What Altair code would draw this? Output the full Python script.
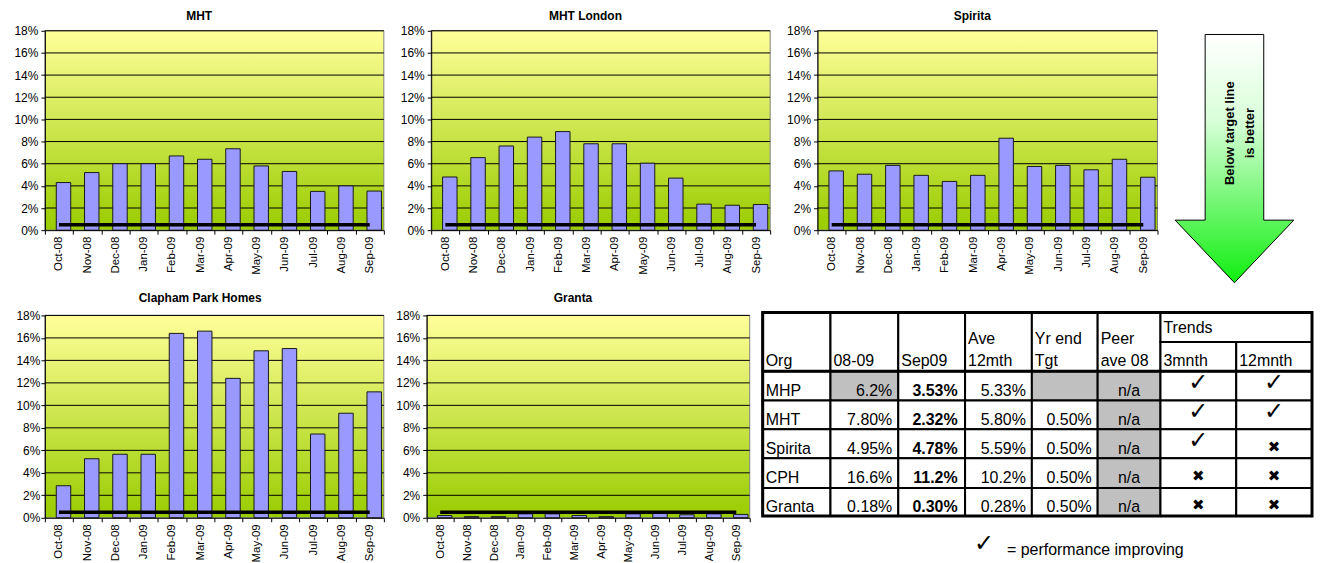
import altair as alt
import pandas as pd

FONT = "Liberation Sans"
SYM_FONT = "DejaVu Sans"

# ---------------- data ----------------
MONTHS = ["Oct-08", "Nov-08", "Dec-08", "Jan-09", "Feb-09", "Mar-09",
          "Apr-09", "May-09", "Jun-09", "Jul-09", "Aug-09", "Sep-09"]
MHT = [4.3, 5.2, 6.0, 6.0, 6.7, 6.4, 7.35, 5.8, 5.3, 3.5, 4.0, 3.53]
MHT_LONDON = [4.8, 6.55, 7.6, 8.4, 8.9, 7.8, 7.8, 6.05, 4.7, 2.35, 2.25, 2.32]
SPIRITA = [5.35, 5.05, 5.85, 4.95, 4.4, 4.95, 8.3, 5.75, 5.85, 5.45, 6.4, 4.78]
CPH = [2.85, 5.25, 5.65, 5.65, 16.4, 16.6, 12.4, 14.85, 15.05, 7.45, 9.3, 11.2]
GRANTA = [0.2, 0.1, 0.1, 0.35, 0.35, 0.2, 0.1, 0.35, 0.38, 0.27, 0.35, 0.30]
TARGET = 0.5
Y_TICKS = [0, 2, 4, 6, 8, 10, 12, 14, 16, 18]

TABLE_ORGS = ["MHP", "MHT", "Spirita", "CPH", "Granta"]
COL_08_09 = ["6.2%", "7.80%", "4.95%", "16.6%", "0.18%"]
COL_SEP09 = ["3.53%", "2.32%", "4.78%", "11.2%", "0.30%"]
COL_AVE12 = ["5.33%", "5.80%", "5.59%", "10.2%", "0.28%"]
COL_YR_TGT = ["", "0.50%", "0.50%", "0.50%", "0.50%"]
COL_PEER = ["n/a", "n/a", "n/a", "n/a", "n/a"]
TREND_3M = [True, True, True, False, False]
TREND_12M = [True, True, False, False, False]
# header text: (text, column, line level)
HEADER_LINES = [("Org", 0, 2), ("08-09", 1, 2), ("Sep09", 2, 2),
                ("Ave", 3, 1), ("12mth", 3, 2), ("Yr end", 4, 1), ("Tgt", 4, 2),
                ("Peer", 5, 1), ("ave 08", 5, 2), ("Trends", 6, 0),
                ("3mnth", 6, 2), ("12mnth", 7, 2)]
GRAY_CELLS = [(0, 1), (0, 4), (0, 5), (1, 5), (2, 5), (3, 5), (4, 5)]
CHECK = "\u2713"
CROSS = "\u2716"
ARROW_TEXT = ["Below target line", "is better"]
LEGEND_TEXT = "= performance improving"

# ---------------- styling / layout ----------------
BG_GRAD = alt.Gradient(gradient="linear", x1=0, x2=0, y1=0, y2=1,
                       stops=[alt.GradientStop(color="#FFFF99", offset=0),
                              alt.GradientStop(color="#99CC00", offset=1)])
ARROW_GRAD = alt.Gradient(gradient="linear", x1=0, x2=0, y1=0, y2=1,
                          stops=[alt.GradientStop(color="#FFFFFF", offset=0),
                                 alt.GradientStop(color="#D8FFD8", offset=0.35),
                                 alt.GradientStop(color="#10EE10", offset=1)])


def bar_panel(title, values, width, height, title_offset, label_pad):
    df = pd.DataFrame({"month": MONTHS, "value": values,
                       "target": [TARGET] * len(MONTHS)})
    grid_df = pd.DataFrame({"value": Y_TICKS[1:]})
    yscale = alt.Scale(domain=[0, 18], nice=False, zero=True)
    yaxis = alt.Axis(title=None, values=Y_TICKS, labelExpr="datum.value + '%'",
                     grid=False, tickSize=4, labelPadding=label_pad,
                     labelFontSize=12, labelFont=FONT, labelColor="black",
                     domainColor="black", tickColor="black", zindex=1)
    xaxis = alt.Axis(title=None, labelAngle=270, labelAlign="right",
                     labelBaseline="middle", tickBand="extent", tickSize=4,
                     labelPadding=2, labelFontSize=11.5, labelFont=FONT,
                     labelColor="black", domainColor="black", tickColor="black",
                     grid=False, labelOverlap=False, zindex=1)
    xenc = alt.X("month:N", sort=MONTHS,
                 scale=alt.Scale(paddingInner=0, paddingOuter=0), axis=xaxis)
    bg = alt.Chart(pd.DataFrame({"k": [0]})).mark_rect(
        fill=BG_GRAD, stroke="#808080", strokeWidth=1
    ).encode(x=alt.value(0), x2=alt.value(width), y=alt.value(0), y2=alt.value(height))
    grid = alt.Chart(grid_df).mark_rule(color="black", strokeWidth=1).encode(
        y=alt.Y("value:Q", scale=yscale, axis=yaxis))
    bars = alt.Chart(df).mark_bar(width=14.5, xOffset=4.5, fill="#9999FF",
                                  stroke="#1a1a1a", strokeWidth=1).encode(
        x=xenc, y=alt.Y("value:Q", scale=yscale, axis=yaxis))
    line = alt.Chart(df).mark_line(color="black", strokeWidth=3.5).encode(
        x=xenc, y=alt.Y("target:Q", scale=yscale, axis=yaxis))
    return alt.layer(bg, grid, bars, line).properties(
        width=width, height=height,
        title=alt.Title(title, font=FONT, fontSize=12, fontWeight="bold",
                        color="black", anchor="middle", frame="bounds",
                        offset=title_offset))


# ---- arrow panel ----
AW, AH = 135, 200
ARROW_PATH = ("M -0.236 -1 L 0.236 -1 L 0.236 0.496 L 0.478 0.496 L 0 1 "
              "L -0.478 0.496 L -0.236 0.496 Z")
arrow = alt.Chart(pd.DataFrame({"k": [0]})).mark_point(
    shape=ARROW_PATH, size=249 * 249, filled=True, fill=ARROW_GRAD,
    stroke="black", strokeWidth=1, opacity=1
).encode(x=alt.value(58.7), y=alt.value(128.2))
arrow_text = alt.Chart(pd.DataFrame({"k": [0]})).mark_text(
    text=ARROW_TEXT, angle=270, align="center", baseline="middle",
    font=FONT, fontSize=13, fontWeight="bold", lineHeight=20, color="black"
).encode(x=alt.value(54.7), y=alt.value(102.7))
arrow_panel = alt.layer(arrow, arrow_text).properties(width=AW, height=AH)

# ---- table panel ----
COL_W = [68, 68, 67, 67, 66, 63, 76, 76]
HEADER_H = 59
TRENDS_SPLIT = 29.7
ROW_H = [29.3, 29, 29, 29.7, 28.3]
TABLE_TOP = -3
TW = sum(COL_W)
TH = 244
HEADER_BASE = {0: 21, 1: 32, 2: 53.7}

col_x = [0]
for w in COL_W:
    col_x.append(col_x[-1] + w)
row_y = [TABLE_TOP + HEADER_H]
for h in ROW_H:
    row_y.append(row_y[-1] + h)

cells = []
for c in range(6):
    cells.append(dict(x0=col_x[c], x1=col_x[c + 1], y0=TABLE_TOP,
                      y1=TABLE_TOP + HEADER_H, fill="white"))
cells.append(dict(x0=col_x[6], x1=col_x[8], y0=TABLE_TOP,
                  y1=TABLE_TOP + TRENDS_SPLIT, fill="white"))
for c in (6, 7):
    cells.append(dict(x0=col_x[c], x1=col_x[c + 1], y0=TABLE_TOP + TRENDS_SPLIT,
                      y1=TABLE_TOP + HEADER_H, fill="white"))
for r in range(5):
    for c in range(8):
        cells.append(dict(x0=col_x[c], x1=col_x[c + 1], y0=row_y[r], y1=row_y[r + 1],
                          fill="#C0C0C0" if (r, c) in GRAY_CELLS else "white"))
cells_df = pd.DataFrame(cells)

TX = alt.Scale(domain=[0, TW], nice=False, zero=False)
TY = alt.Scale(domain=[0, TH], nice=False, zero=False, reverse=True)


def tpos(xf, yf):
    return dict(x=alt.X(xf, scale=TX, axis=None), y=alt.Y(yf, scale=TY, axis=None))


cell_layer = alt.Chart(cells_df).mark_rect(stroke="black", strokeWidth=2).encode(
    x=alt.X("x0:Q", scale=TX, axis=None), x2="x1:Q",
    y=alt.Y("y0:Q", scale=TY, axis=None), y2="y1:Q",
    fill=alt.Fill("fill:N", scale=None))
outer_df = pd.DataFrame([dict(x0=0, x1=TW, y0=TABLE_TOP, y1=row_y[-1])])
outer_layer = alt.Chart(outer_df).mark_rect(stroke="black", strokeWidth=3,
                                            fillOpacity=0).encode(
    x=alt.X("x0:Q", scale=TX, axis=None), x2="x1:Q",
    y=alt.Y("y0:Q", scale=TY, axis=None), y2="y1:Q")
hdr_rule_df = pd.DataFrame([dict(x0=0, x1=TW, y0=TABLE_TOP + HEADER_H)])
hdr_rule = alt.Chart(hdr_rule_df).mark_rule(color="black", strokeWidth=3).encode(
    x=alt.X("x0:Q", scale=TX, axis=None), x2="x1:Q",
    y=alt.Y("y0:Q", scale=TY, axis=None))

hdr_df = pd.DataFrame([dict(t=t, x=col_x[c] + 3, y=TABLE_TOP + HEADER_BASE[lvl])
                       for t, c, lvl in HEADER_LINES])
left_rows = [dict(t=o, x=col_x[0] + 3, y=row_y[r + 1] - 4.5)
             for r, o in enumerate(TABLE_ORGS)]
left_df = pd.concat([hdr_df, pd.DataFrame(left_rows)], ignore_index=True)

right_rows = []
for col, vals in ((1, COL_08_09), (3, COL_AVE12), (4, COL_YR_TGT)):
    for r, v in enumerate(vals):
        right_rows.append(dict(t=v, x=col_x[col + 1] - 6, y=row_y[r + 1] - 4.5))
right_df = pd.DataFrame(right_rows)
bold_df = pd.DataFrame([dict(t=v, x=col_x[3] - 7.5, y=row_y[r + 1] - 4.5)
                        for r, v in enumerate(COL_SEP09)])
center_df = pd.DataFrame([dict(t=v, x=(col_x[5] + col_x[6]) / 2, y=row_y[r + 1] - 4.5)
                          for r, v in enumerate(COL_PEER)])
checks, crosses = [], []
for col, vals in ((6, TREND_3M), (7, TREND_12M)):
    cx = (col_x[col] + col_x[col + 1]) / 2
    for r, ok in enumerate(vals):
        if ok:
            checks.append(dict(t=CHECK, x=cx, y=row_y[r] + 12))
        else:
            crosses.append(dict(t=CROSS, x=cx, y=row_y[r] + 17.5))
check_df = pd.DataFrame(checks)
cross_df = pd.DataFrame(crosses)


def text_layer(df, **kw):
    return alt.Chart(df).mark_text(color="black", **kw).encode(
        text="t:N", **tpos("x:Q", "y:Q"))


t_left = text_layer(left_df, align="left", baseline="alphabetic", font=FONT, fontSize=16)
t_right = text_layer(right_df, align="right", baseline="alphabetic", font=FONT, fontSize=16)
t_bold = text_layer(bold_df, align="right", baseline="alphabetic", font=FONT,
                    fontSize=16, fontWeight="bold")
t_center = text_layer(center_df, align="center", baseline="alphabetic", font=FONT, fontSize=16)
t_check = text_layer(check_df, align="center", baseline="middle", font=SYM_FONT, fontSize=24)
t_cross = text_layer(cross_df, align="center", baseline="middle", font=SYM_FONT, fontSize=15)

legend_check = alt.Chart(pd.DataFrame({"t": [CHECK]})).mark_text(
    align="center", baseline="middle", font=SYM_FONT, fontSize=24, color="black"
).encode(text="t:N", x=alt.value(222), y=alt.value(229.5))
legend_text = alt.Chart(pd.DataFrame({"t": [LEGEND_TEXT]})).mark_text(
    align="left", baseline="alphabetic", font=FONT, fontSize=16, color="black"
).encode(text="t:N", x=alt.value(245), y=alt.value(240.5))

table_panel = alt.layer(cell_layer, outer_layer, hdr_rule, t_left, t_right, t_bold,
                        t_center, t_check, t_cross, legend_check, legend_text
                        ).properties(width=TW, height=TH)

# ---- assemble ----
p1 = bar_panel("MHT", MHT, 340, 200, 2.3, 3)
p2 = bar_panel("MHT London", MHT_LONDON, 340, 200, 2.3, 3)
p3 = bar_panel("Spirita", SPIRITA, 341, 200, 2.3, 3)
p4 = bar_panel("Clapham Park Homes", CPH, 340, 203, 4.5, 1)
p5 = bar_panel("Granta", GRANTA, 324, 203, 4.5, 3)

row1 = alt.hconcat(p1, p2, p3, arrow_panel, spacing=14.5)
row2 = alt.hconcat(p4, p5, table_panel, spacing=10)

chart = alt.vconcat(row1, row2, spacing=6.5).properties(
    padding={"left": 5, "top": 0, "right": 0, "bottom": 0}
).configure_view(strokeWidth=0)

chart.save("out.html", embed_options={"renderer": "svg", "actions": False})
